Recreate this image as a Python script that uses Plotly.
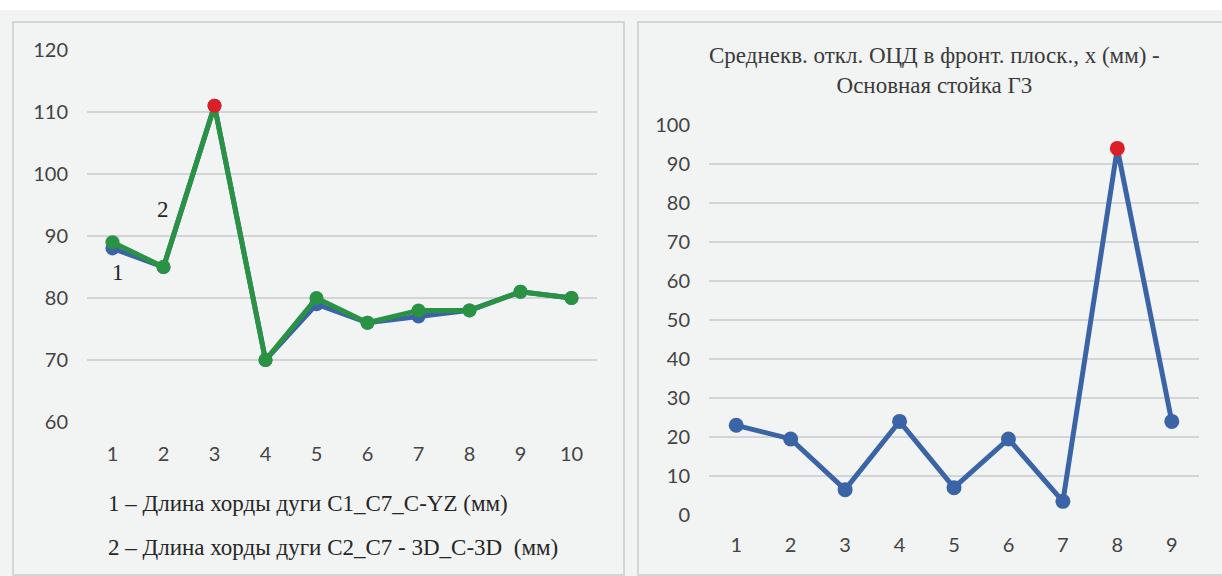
import plotly.graph_objects as go

# ---- data ----
x_left = [1, 2, 3, 4, 5, 6, 7, 8, 9, 10]
series1 = [88, 85, 111, 70, 79, 76, 77, 78, 81, 80]   # 1 – Длина хорды дуги С1_С7_С-YZ (мм)
series2 = [89, 85, 111, 70, 80, 76, 78, 78, 81, 80]   # 2 – Длина хорды дуги С2_С7 - 3D_С-3D (мм)
left_peak = 3

x_right = [1, 2, 3, 4, 5, 6, 7, 8, 9]
deviation = [23, 19.5, 6.5, 24, 7, 19.5, 3.5, 94, 24]
right_peak = 8

legend1 = "1 – Длина хорды дуги С1_С7_С-YZ (мм)"
legend2 = "2 – Длина хорды дуги С2_С7 - 3D_С-3D  (мм)"
title_right = "Среднекв. откл. ОЦД в фронт. плоск., х (мм) -<br>Основная стойка Г3"

W, H = 1222, 576
BLUE = "#3b64a6"
GREEN = "#2a9343"
RED = "#dc1f26"
GRID = "#d2d4d8"
BG = "#f2f3f3"
TICK = dict(family="Lato, Open Sans, sans-serif", size=20, color="#444444")
SERIF = "Liberation Serif, Times New Roman, serif"


def px(x):
    return x / W


def py(y):
    return 1 - y / H


def colors(xs, peak, base):
    return [RED if x == peak else base for x in xs]


fig = go.Figure()

fig.add_trace(go.Scatter(
    x=x_left, y=series1, mode="lines+markers", xaxis="x", yaxis="y",
    line=dict(color=BLUE, width=5), marker=dict(size=14, color=BLUE),
    showlegend=False))
fig.add_trace(go.Scatter(
    x=x_left, y=series2, mode="lines+markers", xaxis="x", yaxis="y",
    line=dict(color=GREEN, width=5),
    marker=dict(size=14, color=colors(x_left, left_peak, GREEN)),
    showlegend=False))
fig.add_trace(go.Scatter(
    x=x_right, y=deviation, mode="lines+markers", xaxis="x2", yaxis="y2",
    line=dict(color=BLUE, width=5),
    marker=dict(size=15, color=colors(x_right, right_peak, BLUE)),
    showlegend=False))

axis_common = dict(showline=False, zeroline=False, ticks="", tickfont=TICK,
                   automargin=False, fixedrange=True)

fig.update_layout(
    width=W, height=H, autosize=False,
    margin=dict(l=0, r=0, t=0, b=0, pad=0),
    paper_bgcolor=BG, plot_bgcolor="rgba(0,0,0,0)",
    xaxis=dict(domain=[px(87), px(597)], range=[0.5, 10.5], dtick=1,
               showgrid=False, anchor="y", ticklabelstandoff=18, **axis_common),
    yaxis=dict(domain=[py(422), py(50)], range=[60, 120], dtick=10,
               showgrid=True, gridcolor=GRID, gridwidth=1.5, anchor="x",
               ticklabelstandoff=18, **axis_common),
    xaxis2=dict(domain=[px(709), px(1199)], range=[0.5, 9.5], dtick=1,
                showgrid=False, anchor="y2", ticklabelstandoff=16, **axis_common),
    yaxis2=dict(domain=[py(515), py(125)], range=[0, 100], dtick=10,
                showgrid=True, gridcolor=GRID, gridwidth=1.5, anchor="x2",
                ticklabelstandoff=18, **axis_common),
)

shapes = [
    dict(type="rect", xref="paper", yref="paper", x0=0, x1=1, y0=py(10), y1=1,
         fillcolor="white", line=dict(width=0), layer="below"),
    dict(type="rect", xref="paper", yref="paper", x0=px(13), x1=px(624), y0=py(575), y1=py(22),
         fillcolor="rgba(0,0,0,0)", line=dict(color="#d3d5d8", width=2), layer="below"),
    dict(type="rect", xref="paper", yref="paper", x0=px(638), x1=px(1230), y0=py(575), y1=py(22),
         fillcolor="rgba(0,0,0,0)", line=dict(color="#d3d5d8", width=2), layer="below"),
]
fig.update_layout(shapes=shapes)

ann = [
    dict(text=legend1, x=px(106), y=py(503), xanchor="left", yanchor="middle"),
    dict(text=legend2, x=px(106), y=py(547), xanchor="left", yanchor="middle"),
    dict(text="1", x=px(118), y=py(272), xanchor="center", yanchor="middle"),
    dict(text="2", x=px(163), y=py(209), xanchor="center", yanchor="middle"),
]
annotations = []
for a in ann:
    a.update(xref="paper", yref="paper", showarrow=False,
             font=dict(family=SERIF, size=23, color="#262626"))
    annotations.append(a)
annotations.append(dict(
    text=title_right, x=px(934), y=py(71), xref="paper", yref="paper",
    xanchor="center", yanchor="middle", showarrow=False, align="center",
    font=dict(family=SERIF, size=23, color="#3a3a3a")))
fig.update_layout(annotations=annotations)

fig.write_html("out.html", config={"displayModeBar": False},
               post_script="document.body.style.margin='0';document.body.style.overflow='hidden';")
